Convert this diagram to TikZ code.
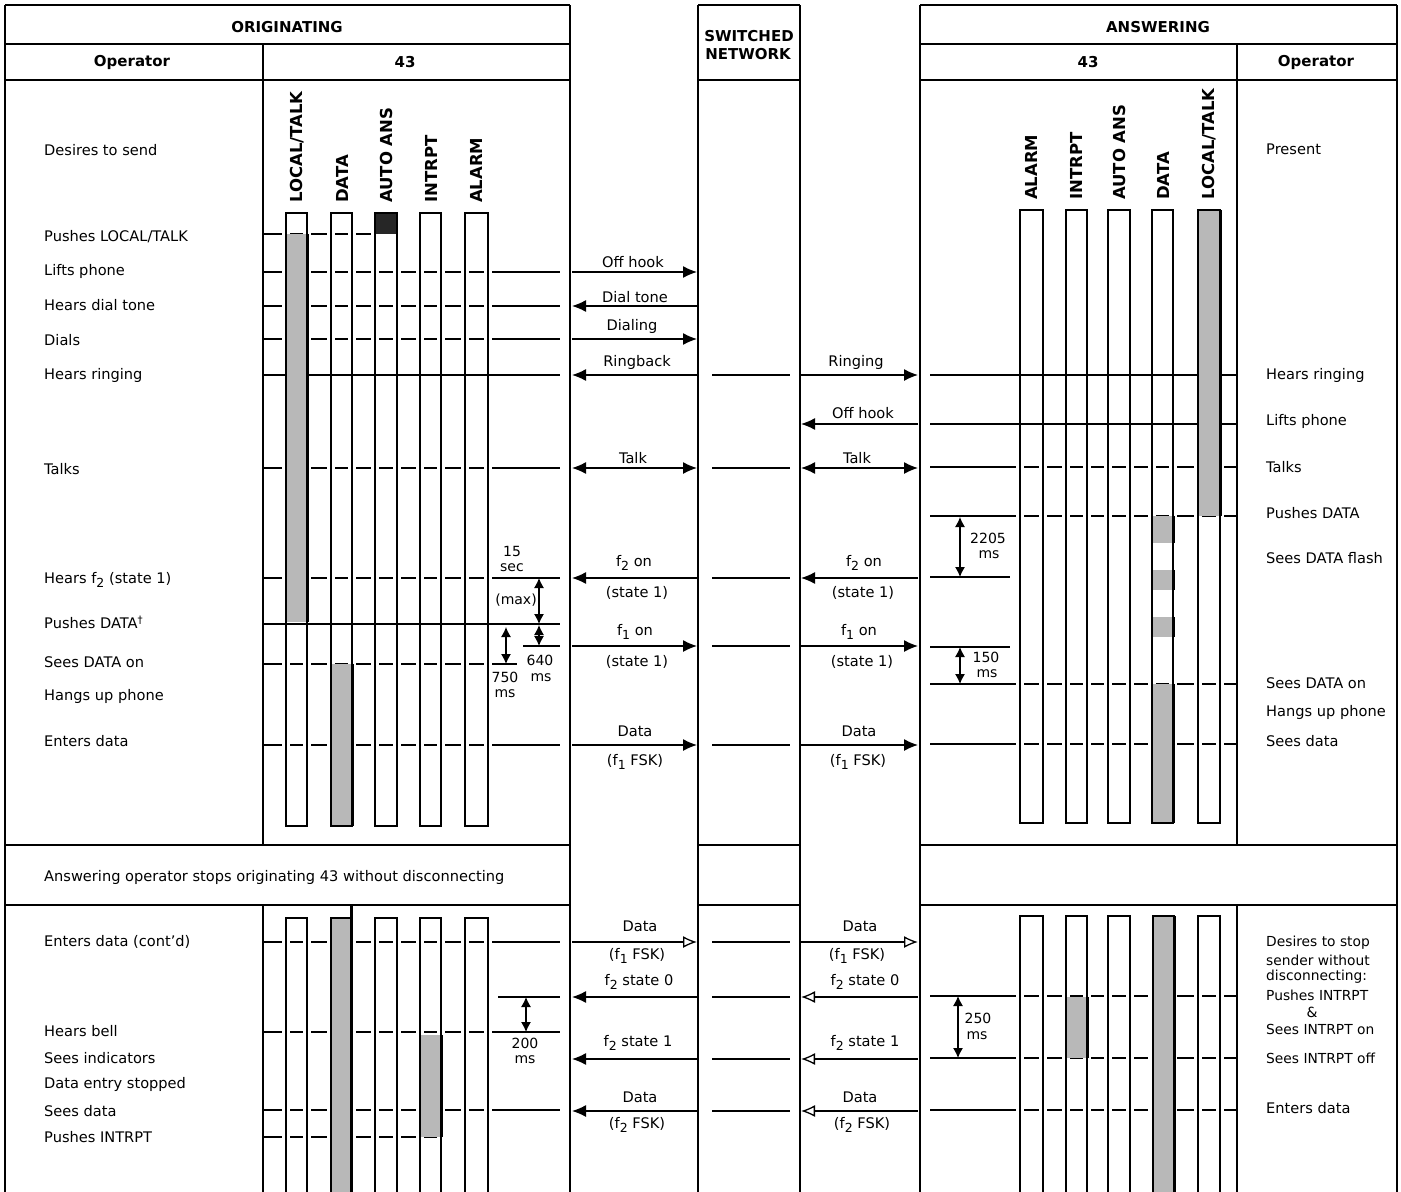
\documentclass[tikz,border=0pt]{standalone}
\usepackage{fontspec}
\setmainfont{DejaVu Sans}
\usetikzlibrary{arrows.meta}
\newcommand\lsub[1]{\raisebox{-0.45ex}{\fontsize{12.5}{12.5}\selectfont #1}}
\newcommand\gapO[3]{\draw[ln] (#2,#1) -- (#3,#1);
  \foreach \bx in {286,307,331,352,375,397,420,441,465,488}{\fill[white] ({\bx-4},{#1-2.5}) rectangle ({\bx+4},{#1+2.5});}}
\newcommand\gapA[3]{\draw[ln] (#2,#1) -- (#3,#1);
  \foreach \bx in {1020,1043,1066,1087,1108,1130,1152,1173,1198,1220}{\fill[white] ({\bx-4},{#1-2.5}) rectangle ({\bx+4},{#1+2.5});}}
\begin{document}
\begin{tikzpicture}[x=1pt,y=-1pt,
  ln/.style={line width=1.3pt},
  bd/.style={line width=1.6pt},
  thk/.style={line width=3pt},
  lab/.style={font=\fontsize{14.6}{16}\selectfont, anchor=west, inner sep=0pt},
  slab/.style={font=\fontsize{13.8}{15}\selectfont, anchor=west, inner sep=0pt},
  hdr/.style={font=\bfseries\fontsize{15}{17}\selectfont, inner sep=0pt},
  vlab/.style={font=\bfseries\fontsize{16.5}{18}\selectfont, rotate=90, anchor=west, inner sep=0pt},
  msg/.style={font=\fontsize{14.6}{16}\selectfont, inner sep=0pt},
  dimt/.style={font=\fontsize{14}{15}\selectfont, inner sep=0pt},
  arr/.style={line width=1.3pt, -{Latex[length=14pt,width=12pt]}},
  arro/.style={line width=1.3pt, -{Latex[open,length=14pt,width=12pt]}},
  darr/.style={line width=1.3pt, {Latex[length=14pt,width=12pt]}-{Latex[length=14pt,width=12pt]}},
  dimarr/.style={line width=1.2pt, {Latex[length=10pt,width=10pt]}-{Latex[length=10pt,width=10pt]}},
  shade/.style={fill=black!28},
  dark/.style={fill=black!85},
]
\useasboundingbox (0,0) rectangle (1401,1192);
\fill[white] (0,0) rectangle (1401,1192);

% ---------- gapped horizontal event lines ----------
\gapO{234}{263}{375}
\gapO{272}{263}{560}
\gapO{306}{263}{560}
\gapO{339}{263}{560}
\gapO{468}{263}{560}
\gapO{578}{263}{560}
\gapO{664}{263}{517}
\gapO{745}{263}{560}
\gapO{942}{263}{560}
\gapO{1032}{263}{560}
\gapO{1110}{263}{560}
\gapO{1137}{263}{441}
\gapA{467}{930}{1237}
\gapA{516}{930}{1237}
\gapA{684}{930}{1237}
\gapA{744}{930}{1237}
\gapA{996}{930}{1237}
\gapA{1058}{930}{1237}
\gapA{1110}{930}{1237}
% ---------- solid event lines ----------
\draw[ln] (263,375) -- (560,375);
\draw[ln] (263,624) -- (560,624);
\draw[ln] (523,646) -- (560,646);
\draw[ln] (498,997) -- (560,997);
\draw[ln] (930,375) -- (1237,375);
\draw[ln] (930,424) -- (1237,424);
\draw[ln] (930,577) -- (1010,577);
\draw[ln] (930,647) -- (1010,647);

% ---------- fills ----------
\fill[shade] (286,234) rectangle (307,622);
\fill[dark] (375,213) rectangle (397,234);
\fill[shade] (331,664) rectangle (352,826);
\fill[shade] (1198,210) rectangle (1220,516);
\fill[shade] (1152,516) rectangle (1173,543);
\fill[shade] (1152,570) rectangle (1173,590);
\fill[shade] (1152,617) rectangle (1173,637);
\fill[shade] (1152,684) rectangle (1173,823);
\fill[shade] (331,918) rectangle (351,1192);
\fill[shade] (420,1035) rectangle (441,1137);
\fill[shade] (1153,916) rectangle (1174,1192);
\fill[shade] (1066,997) rectangle (1087,1058);

% ---------- indicator columns ----------
\foreach \a/\b in {286/307,331/352,375/397,420/441,465/488}
  \draw[ln] (\a,213) rectangle (\b,826);
\foreach \a/\b in {1020/1043,1066/1087,1108/1130,1152/1173,1198/1220}
  \draw[ln] (\a,210) rectangle (\b,823);
\foreach \a/\b in {286/307,331/351,375/397,420/441,465/488}
  \draw[ln] (\a,1192) -- (\a,918) -- (\b,918) -- (\b,1192);
\foreach \a/\b in {1020/1043,1066/1087,1108/1130,1153/1174,1198/1220}
  \draw[ln] (\a,1192) -- (\a,916) -- (\b,916) -- (\b,1192);
% dark edges of lit indicators
\draw[thk] (307,234) -- (307,622);
\draw[thk] (352,664) -- (352,826);
\draw[thk] (1220,210) -- (1220,516);
\draw[thk] (1173,516) -- (1173,543);
\draw[thk] (1173,570) -- (1173,590);
\draw[thk] (1173,617) -- (1173,637);
\draw[thk] (1173,684) -- (1173,823);
\draw[thk] (351,905) -- (351,1192);
\draw[thk] (441,1035) -- (441,1137);
\draw[thk] (1174,916) -- (1174,1192);
\draw[thk] (1087,997) -- (1087,1058);

% ---------- frame ----------
\draw[bd] (5,5) -- (5,1192);
\draw[bd] (5,5) -- (570,5);
\draw[bd] (5,44) -- (570,44);
\draw[bd] (5,80) -- (570,80);
\draw[bd] (570,5) -- (570,1192);
\draw[ln] (263,44) -- (263,845);
\draw[bd] (5,845) -- (570,845);
\draw[bd] (5,905) -- (570,905);
\draw[ln] (263,905) -- (263,1192);
\draw[bd] (698,5) -- (800,5);
\draw[bd] (698,5) -- (698,1192);
\draw[bd] (800,5) -- (800,1192);
\draw[bd] (698,80) -- (800,80);
\draw[bd] (698,845) -- (800,845);
\draw[bd] (698,905) -- (800,905);
\draw[bd] (920,5) -- (1397,5);
\draw[bd] (920,5) -- (920,1192);
\draw[bd] (1397,5) -- (1397,1192);
\draw[bd] (920,44) -- (1397,44);
\draw[bd] (920,80) -- (1397,80);
\draw[ln] (1237,44) -- (1237,845);
\draw[bd] (920,845) -- (1397,845);
\draw[bd] (920,905) -- (1397,905);
\draw[ln] (1237,905) -- (1237,1192);

% ---------- headers ----------
\node[hdr] (hO) at (287,27) {ORIGINATING};
\node[hdr] (hOop) at (132,62) {Operator};
\node[hdr] (hO43) at (405,62) {43};
\node[hdr] (hS1) at (749,36) {SWITCHED};
\node[hdr] (hS2) at (748,54) {NETWORK};
\node[hdr] (hA) at (1158,27) {ANSWERING};
\node[hdr] (hA43) at (1088,62) {43};
\node[hdr] (hAop) at (1316,62) {Operator};

% ---------- rotated indicator labels ----------
\node[vlab] (vo1) at (297,203) {LOCAL/TALK};
\node[vlab] (vo2) at (342,203) {DATA};
\node[vlab] (vo3) at (386,203) {AUTO ANS};
\node[vlab] (vo4) at (431,203) {INTRPT};
\node[vlab] (vo5) at (476,203) {ALARM};
\node[vlab] (va1) at (1031,200) {ALARM};
\node[vlab] (va2) at (1076,200) {INTRPT};
\node[vlab] (va3) at (1119,200) {AUTO ANS};
\node[vlab] (va4) at (1163,200) {DATA};
\node[vlab] (va5) at (1209,200) {LOCAL/TALK};

% ---------- originating operator actions ----------
\node[lab] (l1) at (44,150) {Desires to send};
\node[lab] (l2) at (44,237) {Pushes LOCAL/TALK};
\node[lab] (l3) at (44,271) {Lifts phone};
\node[lab] (l4) at (44,305) {Hears dial tone};
\node[lab] (l5) at (44,340) {Dials};
\node[lab] (l6) at (44,375) {Hears ringing};
\node[lab] (l7) at (44,469) {Talks};
\node[lab] (l8) at (44,580) {Hears f\lsub{2} (state 1)};
\node[lab] (l9) at (44,622) {Pushes DATA\textsuperscript{†}};
\node[lab] (l10) at (44,662) {Sees DATA on};
\node[lab] (l11) at (44,696) {Hangs up phone};
\node[lab] (l12) at (44,741) {Enters data};
\node[lab] (mid) at (44,877) {Answering operator stops originating 43 without disconnecting};
\node[lab] (l13) at (44,942) {Enters data (cont'd)};
\node[lab] (l14) at (44,1031) {Hears bell};
\node[lab] (l15) at (44,1058) {Sees indicators};
\node[lab] (l16) at (44,1084) {Data entry stopped};
\node[lab] (l17) at (44,1111) {Sees data};
\node[lab] (l18) at (44,1137) {Pushes INTRPT};

% ---------- answering operator actions ----------
\node[lab] (r1) at (1266,149) {Present};
\node[lab] (r2) at (1266,375) {Hears ringing};
\node[lab] (r3) at (1266,421) {Lifts phone};
\node[lab] (r4) at (1266,467) {Talks};
\node[lab] (r5) at (1266,513) {Pushes DATA};
\node[lab] (r6) at (1266,558) {Sees DATA flash};
\node[lab] (r7) at (1266,683) {Sees DATA on};
\node[lab] (r8) at (1266,712) {Hangs up phone};
\node[lab] (r9) at (1266,741) {Sees data};
\node[slab] (r10) at (1266,943) {Desires to stop};
\node[slab] (r11) at (1266,960) {sender without};
\node[slab] (r12) at (1266,977) {disconnecting:};
\node[slab] (r13) at (1266,995) {Pushes INTRPT};
\node[dimt] (r14) at (1312,1012) {\&};
\node[slab] (r15) at (1266,1029) {Sees INTRPT on};
\node[slab] (r16) at (1266,1058) {Sees INTRPT off};
\node[lab] (r17) at (1266,1108) {Enters data};

% ---------- messages ----------
\draw[arr] (572,272) -- (697,272);
\node[msg] (m1) at (633,262) {Off hook};
\draw[arr] (697,306) -- (572,306);
\node[msg] (m2) at (635,297) {Dial tone};
\draw[arr] (572,339) -- (697,339);
\node[msg] (m3) at (632,326) {Dialing};
\draw[arr] (697,375) -- (572,375);
\node[msg] (m4) at (637,362) {Ringback};
\draw[arr] (801,375) -- (918,375);
\node[msg] (m5) at (856,362) {Ringing};
\draw[arr] (918,424) -- (801,424);
\node[msg] (m6) at (863,413) {Off hook};
\draw[darr] (572,468) -- (697,468);
\node[msg] (m7) at (633,458) {Talk};
\draw[darr] (801,468) -- (918,468);
\node[msg] (m8) at (857,458) {Talk};
\draw[arr] (697,578) -- (572,578);
\node[msg] (m9) at (634,563) {f\lsub{2} on};
\node[msg] (m9b) at (637,593) {(state 1)};
\draw[arr] (918,578) -- (801,578);
\node[msg] (m10) at (864,563) {f\lsub{2} on};
\node[msg] (m10b) at (863,593) {(state 1)};
\draw[arr] (572,646) -- (697,646);
\node[msg] (m11) at (635,632) {f\lsub{1} on};
\node[msg] (m11b) at (637,662) {(state 1)};
\draw[arr] (801,646) -- (918,646);
\node[msg] (m12) at (859,632) {f\lsub{1} on};
\node[msg] (m12b) at (862,662) {(state 1)};
\draw[arr] (572,745) -- (697,745);
\node[msg] (m13) at (635,731) {Data};
\node[msg] (m13b) at (635,762) {(f\lsub{1} FSK)};
\draw[arr] (801,745) -- (918,745);
\node[msg] (m14) at (859,731) {Data};
\node[msg] (m14b) at (858,762) {(f\lsub{1} FSK)};
% bottom
\draw[arro] (572,942) -- (697,942);
\node[msg] (m15) at (640,926) {Data};
\node[msg] (m15b) at (637,956) {(f\lsub{1} FSK)};
\draw[arro] (801,942) -- (918,942);
\node[msg] (m16) at (860,926) {Data};
\node[msg] (m16b) at (857,956) {(f\lsub{1} FSK)};
\draw[arr] (697,997) -- (572,997);
\node[msg] (m17) at (639,982) {f\lsub{2} state 0};
\draw[arro] (918,997) -- (801,997);
\node[msg] (m18) at (865,982) {f\lsub{2} state 0};
\draw[arr] (697,1059) -- (572,1059);
\node[msg] (m19) at (638,1043) {f\lsub{2} state 1};
\draw[arro] (918,1059) -- (801,1059);
\node[msg] (m20) at (865,1043) {f\lsub{2} state 1};
\draw[arr] (697,1111) -- (572,1111);
\node[msg] (m21) at (640,1097) {Data};
\node[msg] (m21b) at (637,1125) {(f\lsub{2} FSK)};
\draw[arro] (918,1111) -- (801,1111);
\node[msg] (m22) at (860,1097) {Data};
\node[msg] (m22b) at (862,1125) {(f\lsub{2} FSK)};
% pass-through in the network column
\foreach \y in {375,468,578,646,745,942,997,1059,1111}
  \draw[ln] (712,\y) -- (790,\y);

% ---------- timing dimensions ----------
\draw[dimarr] (539,578) -- (539,624);
\draw[dimarr] (539,625) -- (539,646);
\draw[dimarr] (506,627) -- (506,664);
\draw[dimarr] (960,517) -- (960,577);
\draw[dimarr] (960,647) -- (960,684);
\draw[dimarr] (526,997) -- (526,1032);
\draw[dimarr] (958,996) -- (958,1058);
\node[dimt] (d1) at (512,551) {15};
\node[dimt] (d2) at (512,568) {sec};
\node[dimt] (d3) at (516,600) {(max)};
\node[dimt] (d4) at (540,660) {640};
\node[dimt] (d5) at (541,678) {ms};
\node[dimt] (d6) at (505,677) {750};
\node[dimt] (d7) at (505,694) {ms};
\node[dimt] (d8) at (988,538) {2205};
\node[dimt] (d9) at (989,555) {ms};
\node[dimt] (d10) at (986,657) {150};
\node[dimt] (d11) at (987,674) {ms};
\node[dimt] (d12) at (525,1043) {200};
\node[dimt] (d13) at (525,1060) {ms};
\node[dimt] (d14) at (978,1018) {250};
\node[dimt] (d15) at (977,1036) {ms};
\end{tikzpicture}
\end{document}
